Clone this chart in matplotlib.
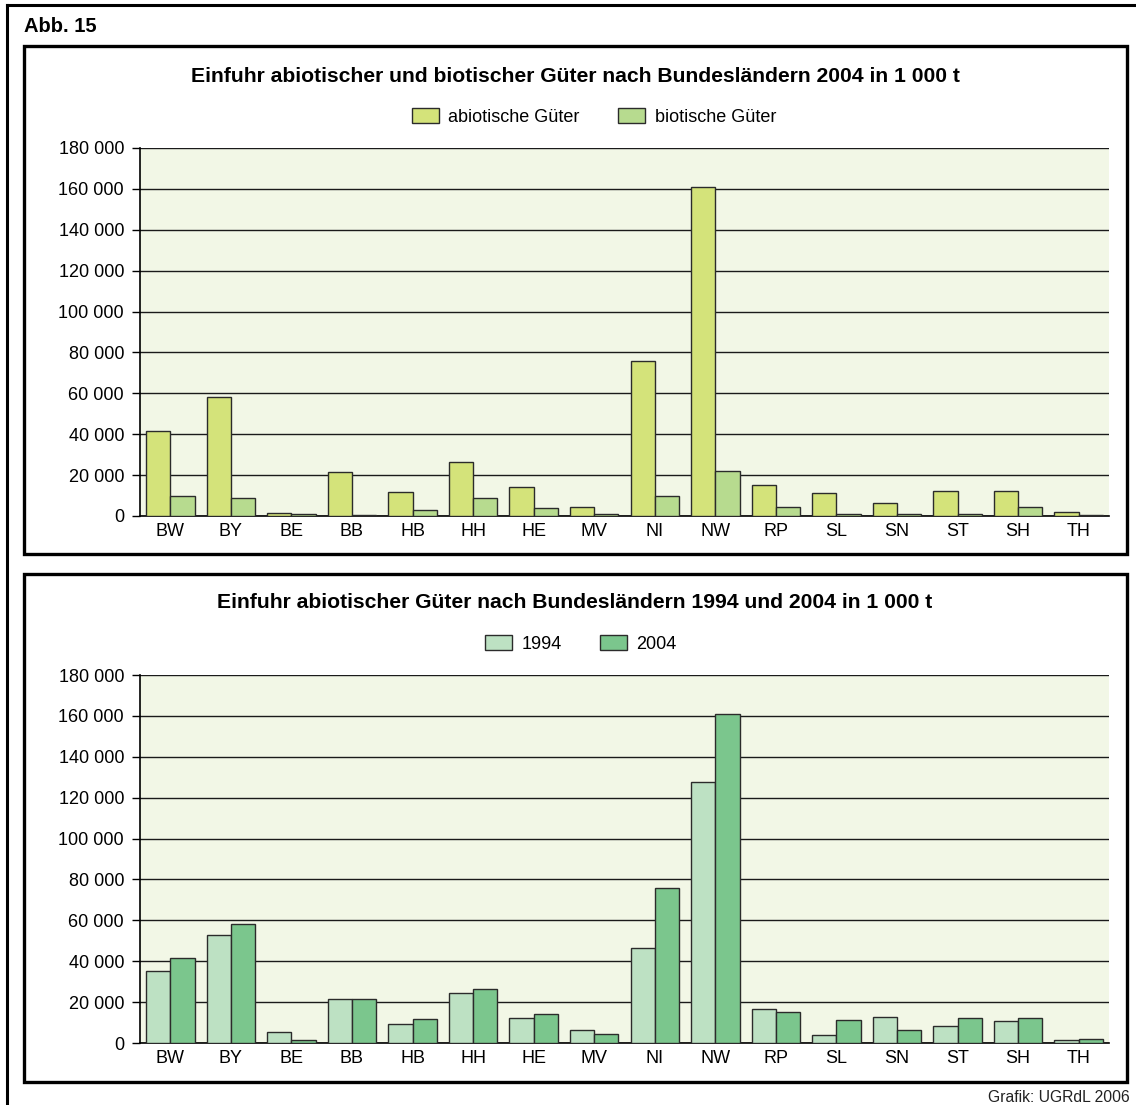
import matplotlib
matplotlib.use("Agg")
import matplotlib.pyplot as plt
import numpy as np
from matplotlib.patches import Rectangle
from matplotlib.lines import Line2D
from matplotlib.ticker import FuncFormatter

plt.rcParams['font.family'] = ['Liberation Sans', 'DejaVu Sans']

categories = ["BW", "BY", "BE", "BB", "HB", "HH", "HE", "MV", "NI", "NW",
              "RP", "SL", "SN", "ST", "SH", "TH"]
abiotic_2004 = [41.4, 58.2, 1.6, 21.7, 11.5, 26.3, 14.4, 4.5, 76.0, 160.8,
                15.4, 11.2, 6.5, 12.0, 12.3, 1.9]
biotic_2004 = [10.0, 8.8, 1.0, 0.7, 3.0, 8.6, 3.7, 0.8, 9.7, 22.0,
               4.2, 1.1, 1.1, 0.8, 4.2, 0.6]
abiotic_1994 = [35.1, 52.7, 5.2, 21.6, 9.3, 24.5, 12.2, 6.6, 46.3, 127.8,
                16.6, 3.9, 12.7, 8.3, 10.7, 1.5]
yticks = [0, 20, 40, 60, 80, 100, 120, 140, 160, 180]

title1 = "Einfuhr abiotischer und biotischer Güter nach Bundesländern 2004 in 1 000 t"
title2 = "Einfuhr abiotischer Güter nach Bundesländern 1994 und 2004 in 1 000 t"

W, H = 1136, 1105
fig = plt.figure(figsize=(W / 100, H / 100), dpi=100)
fig.patch.set_facecolor("white")

def fx(x): return x / W
def fy(y): return 1 - y / H

# outer frame (left and top visible)
fig.add_artist(Line2D([fx(7), fx(7)], [fy(5), fy(1110)], color="black", lw=2.2, transform=fig.transFigure))
fig.add_artist(Line2D([fx(7), fx(1140)], [fy(5), fy(5)], color="black", lw=2.2, transform=fig.transFigure))
fig.text(fx(24), fy(27), "Abb. 15", fontsize=14.5, fontweight="bold", va="center", ha="left")
fig.text(fx(1130), fy(1097), "Grafik: UGRdL 2006", fontsize=11.3, va="center", ha="right", color="#222222")

# panels
for (top, bot) in [(46, 554), (574, 1082)]:
    fig.add_artist(Rectangle((fx(24), fy(bot)), fx(1127) - fx(24), fy(top) - fy(bot),
                             transform=fig.transFigure, fill=False, ec="black", lw=2.4))

fmt = FuncFormatter(lambda v, p: "0" if v == 0 else f"{int(v):,}".replace(",", " ") + " 000")

def make_axes(top, bot, s1, s2, c1, c2, labels, title, title_y, leg_x, leg_y):
    ax = fig.add_axes([fx(140), fy(bot), fx(1109) - fx(140), fy(top) - fy(bot)])
    ax.set_facecolor("#F2F7E6")
    x = np.arange(len(categories))
    w = 0.4
    b1 = ax.bar(x - w / 2, s1, w, color=c1, edgecolor="#2b2b2b", lw=1.0, zorder=3, label=labels[0])
    b2 = ax.bar(x + w / 2, s2, w, color=c2, edgecolor="#2b2b2b", lw=1.0, zorder=3, label=labels[1])
    ax.set_xlim(-0.5, len(categories) - 0.5)
    ax.set_ylim(0, 180)
    ax.set_yticks(yticks)
    ax.yaxis.set_major_formatter(fmt)
    ax.set_xticks(x)
    ax.set_xticklabels(categories)
    ax.tick_params(axis="x", length=0, labelsize=13, pad=5)
    ax.tick_params(axis="y", length=6, width=1, labelsize=13, pad=5.5, direction="out")
    ax.grid(axis="y", color="#1a1a1a", lw=1.0, zorder=1)
    for s in ["top", "right"]:
        ax.spines[s].set_visible(False)
    ax.spines["left"].set_color("black")
    ax.spines["bottom"].set_color("black")
    ax.spines["left"].set_linewidth(1.2)
    ax.spines["bottom"].set_linewidth(1.2)
    fig.text(fx(575), fy(title_y), title, fontsize=15.2, fontweight="bold", ha="center", va="center")
    fig.legend(handles=[b1, b2], loc="center", bbox_to_anchor=(fx(leg_x), fy(leg_y)), ncol=2,
               frameon=False, fontsize=13.0, handlelength=1.5, handleheight=0.9,
               columnspacing=2.15, handletextpad=0.5)
    return ax

make_axes(148, 516, abiotic_2004, biotic_2004, "#D4E37A", "#B7DB8F",
          ["abiotische Güter", "biotische Güter"], title1, 76, 594, 117)
make_axes(675, 1043, abiotic_1994, abiotic_2004, "#BDE1C3", "#7BC68D",
          ["1994", "2004"], title2, 603, 581, 644)

fig.savefig("out.png", dpi=100, facecolor="white")
